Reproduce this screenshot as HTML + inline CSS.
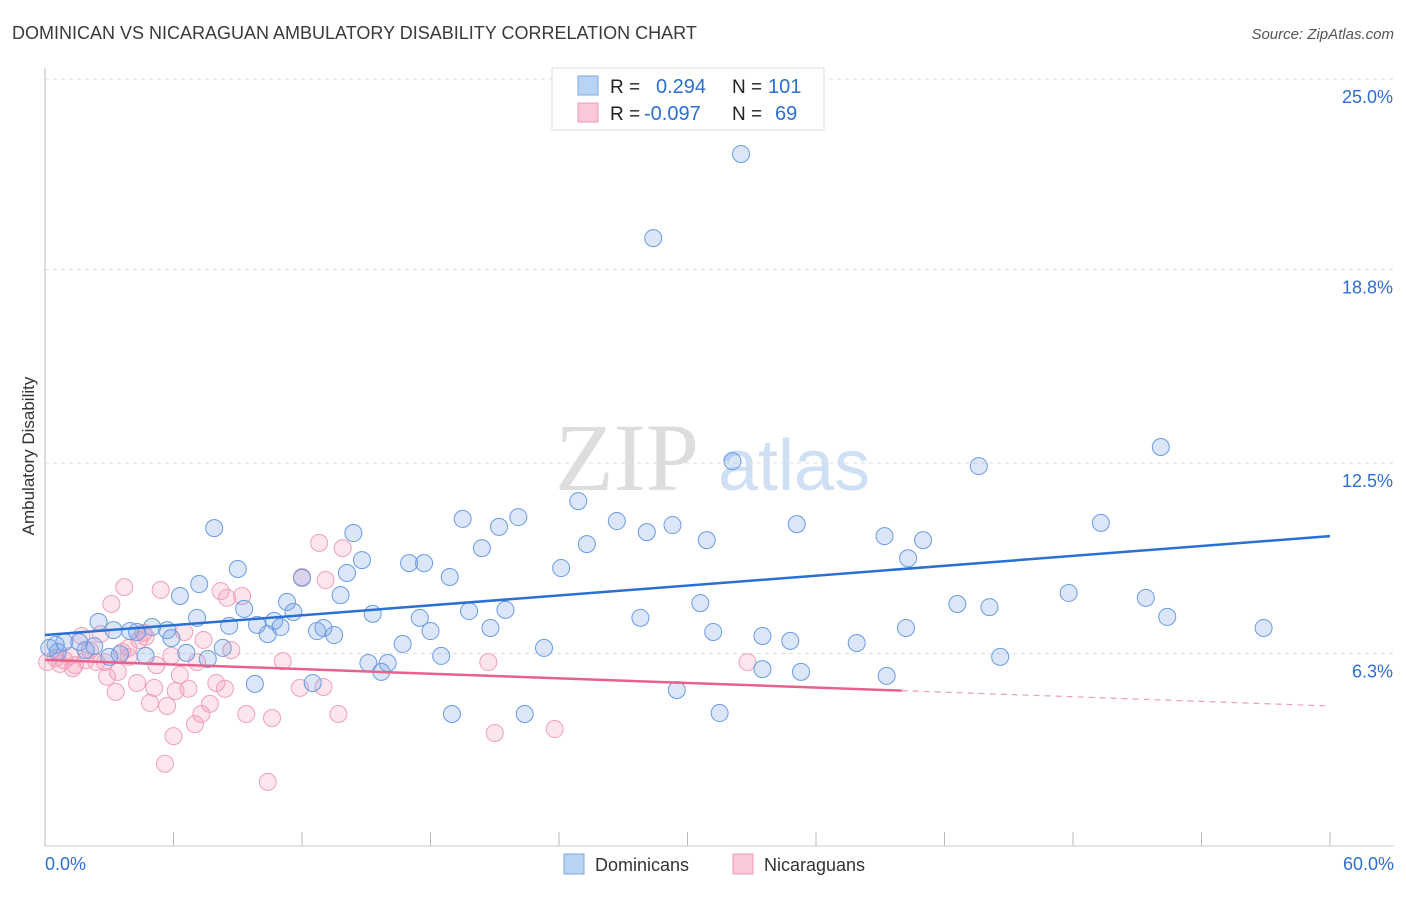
<!DOCTYPE html>
<html><head><meta charset="utf-8"><style>
body{margin:0;background:#fff;font-family:"Liberation Sans",sans-serif}
svg text{font-family:"Liberation Sans",sans-serif}
</style></head><body>
<svg id="chart" width="1406" height="892" xmlns="http://www.w3.org/2000/svg">
<text x="12" y="39" font-size="18" fill="#3a3a3a">DOMINICAN VS NICARAGUAN AMBULATORY DISABILITY CORRELATION CHART</text>
<text x="1394" y="39" font-size="15" fill="#555" text-anchor="end" font-style="italic">Source: ZipAtlas.com</text>
<text x="555" y="490" font-size="96" fill="#ddd" font-family="Liberation Serif" style="font-family:'Liberation Serif',serif">ZIP</text>
<text x="718" y="490" font-size="72" fill="#cfe0f5">atlas</text>
<g id="grid"></g><g id="axes"></g><g id="pts"></g><g id="lines"></g>
<text transform="translate(34,456) rotate(-90)" font-size="17" fill="#333" text-anchor="middle">Ambulatory Disability</text>
<g>
<rect x="552" y="68" width="272" height="62" fill="#fff" stroke="#ddd"/>
<rect x="578" y="76" width="20" height="19" fill="#b8d4f5" stroke="#7aa8e4"/>
<rect x="578" y="103" width="20" height="19" fill="#fac8d6" stroke="#ee9ab4"/>
<text x="610" y="93" font-size="19" fill="#222">R =</text><text x="656" y="93" font-size="20" fill="#2d6fd0">0.294</text>
<text x="732" y="93" font-size="19" fill="#222">N =</text><text x="768" y="93" font-size="20" fill="#2d6fd0">101</text>
<text x="610" y="120" font-size="19" fill="#222">R =</text><text x="644" y="120" font-size="20" fill="#2d6fd0">-0.097</text>
<text x="732" y="120" font-size="19" fill="#222">N =</text><text x="775" y="120" font-size="20" fill="#2d6fd0">69</text>
</g>
<g>
<rect x="564" y="854" width="20" height="20" fill="#b8d4f5" stroke="#7aa8e4"/>
<text x="595" y="871" font-size="18" fill="#333">Dominicans</text>
<rect x="733" y="854" width="20" height="20" fill="#fac8d6" stroke="#ee9ab4"/>
<text x="764" y="871" font-size="18" fill="#333">Nicaraguans</text>
</g>
</svg>
<script>
const blueX=[32.5,28.4,52.1,43.6,32.1,7.9,19.5,22.1,21.2,24.9,26.7,29.3,28.1,35.1,49.3,39.2,41.0,30.9,14.4,25.3,20.4,40.3,14.8,9.0,17.0,17.7,24.1,14.1,18.9,12.0,7.2,6.3,13.8,47.8,51.4,30.6,42.6,44.1,11.3,9.3,11.6,19.8,21.5,15.3,7.1,17.5,27.8,52.4,2.5,10.7,8.6,9.9,11.0,5.0,5.7,13.0,12.7,13.5,18.0,20.8,3.2,3.97,10.4,31.2,40.2,56.9,33.5,34.8,37.9,5.9,4.3,16.7,23.3,8.3,0.9,1.6,2.3,0.5,3.5,3.0,1.9,6.6,7.6,18.5,44.6,15.1,16.0,15.7,33.5,35.3,39.3,9.8,12.5,29.5,19.0,22.4,31.5,0.2,4.7,0.6];
const blueY=[22.56,19.82,13.02,12.40,12.56,10.38,10.68,10.74,10.42,11.26,10.61,10.48,10.25,10.51,10.55,10.12,9.99,9.99,10.22,9.86,9.73,9.40,9.34,9.05,9.24,9.24,9.08,8.92,8.79,8.76,8.56,8.17,8.20,8.27,8.11,7.94,7.91,7.81,7.98,7.75,7.65,7.68,7.72,7.59,7.46,7.46,7.46,7.49,7.33,7.36,7.20,7.23,7.16,7.16,7.06,7.13,7.03,6.90,7.03,7.13,7.06,7.03,6.93,7.00,7.13,7.13,6.87,6.71,6.64,6.80,7.00,6.61,6.48,6.48,6.67,6.67,6.54,6.58,6.28,6.19,6.41,6.32,6.12,6.22,6.19,5.99,5.99,5.70,5.79,5.70,5.57,5.31,5.34,5.11,4.33,4.33,4.36,6.48,6.22,6.35];
const pinkX=[0.1,0.5,0.9,1.4,1.9,2.4,2.8,1.3,1.7,2.6,3.1,3.7,5.4,8.2,9.2,12.0,13.1,12.8,13.9,4.6,6.5,4.4,7.4,8.7,3.6,3.9,5.9,7.1,5.2,11.1,20.7,32.8,3.4,2.9,6.3,8.0,4.3,5.1,6.7,8.4,6.1,11.9,13.0,3.3,4.9,5.7,7.7,7.3,9.4,10.6,13.7,7.0,6.0,21.0,23.8,5.6,10.4,3.9,2.1,0.7,8.5,4.7,1.2];
const pinkY=[6.02,6.15,6.08,5.92,6.08,6.02,6.02,5.82,6.87,6.93,7.91,8.46,8.37,8.33,8.17,8.79,8.69,9.90,9.73,6.97,7.00,6.74,6.74,6.41,6.35,6.19,6.22,6.02,5.92,6.05,6.02,6.02,5.70,5.54,5.60,5.34,5.34,5.18,5.15,5.15,5.08,5.18,5.21,5.05,4.69,4.59,4.66,4.33,4.33,4.20,4.33,4.00,3.61,3.71,3.84,2.71,2.12,6.48,6.41,5.96,8.11,6.84,6.22];
const yTicks=[25.0,18.8,12.5,6.3];
const yTickLabels=["25.0%","18.8%","12.5%","6.3%"];
const xTicks=[0,6,12,18,24,30,36,42,48,54,60];
const blueFit=[6.90,10.12];
const pinkFit=[6.09,4.59];
const pinkSolidEnd=40;
const NS="http://www.w3.org/2000/svg";
const X=v=>45+v/60*1285;
const Y=v=>847-v/25*768;
function mk(p,t,a){const e=document.createElementNS(NS,t);for(const k in a)e.setAttribute(k,a[k]);document.getElementById(p).appendChild(e);return e;}
yTicks.forEach((t,i)=>{
 const g=mk('grid','line',{x1:45,x2:1394,y1:Y(t),y2:Y(t),stroke:'#ddd','stroke-dasharray':'4,4'});
 
 
 const l=mk('grid','text',{x:1393,y:Y(t)+24,'font-size':18,fill:'#2d6fd0','text-anchor':'end'});
 l.textContent=yTickLabels[i];
 
 
});
let a=mk('axes','line',{x1:45,x2:45,y1:68,y2:846,stroke:'#bbb'});


a=mk('axes','line',{x1:45,x2:1394,y1:846,y2:846,stroke:'#ccc'});


xTicks.forEach(t=>{
 const e=mk('axes','line',{x1:X(t),x2:X(t),y1:832,y2:846,stroke:'#bbb'});
 
 
});
let t0=mk('axes','text',{x:45,y:870,'font-size':18,fill:'#2d6fd0'});t0.textContent=xTicks[0].toFixed(1)+'%';


let t1=mk('axes','text',{x:1394,y:870,'font-size':18,fill:'#2d6fd0','text-anchor':'end'});t1.textContent=xTicks[xTicks.length-1].toFixed(1)+'%';


pinkX.forEach((x,i)=>{
 const c=mk('pts','circle',{cx:X(x),cy:Y(pinkY[i]),r:8.5,fill:'rgba(244,150,180,0.25)',stroke:'#f0a0ba','stroke-width':1});
 
 
});
blueX.forEach((x,i)=>{
 const c=mk('pts','circle',{cx:X(x),cy:Y(blueY[i]),r:8.5,fill:'rgba(110,160,230,0.25)',stroke:'#6b9be0','stroke-width':1});
 
 
});
let b=mk('lines','line',{x1:X(0),y1:Y(blueFit[0]),x2:X(60),y2:Y(blueFit[1]),stroke:'#2a6fd2','stroke-width':2.5});


const pe=pinkFit[0]+(pinkFit[1]-pinkFit[0])*pinkSolidEnd/60;
let p=mk('lines','line',{x1:X(0),y1:Y(pinkFit[0]),x2:X(pinkSolidEnd),y2:Y(pe),stroke:'#e8608c','stroke-width':2.5});


let pd=mk('lines','line',{x1:X(pinkSolidEnd),y1:Y(pe),x2:X(60),y2:Y(pinkFit[1]),stroke:'#e8a0b8','stroke-width':1.2,'stroke-dasharray':'6,5'});


</script>
</body></html>
